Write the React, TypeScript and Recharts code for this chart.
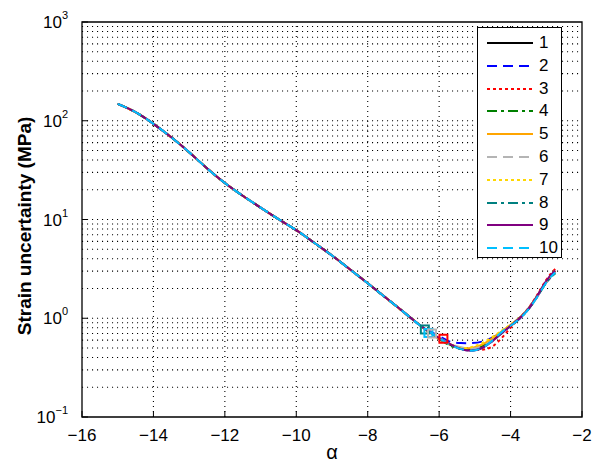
import React from 'react';
import {
  ComposedChart,
  Line,
  Scatter,
  XAxis,
  YAxis,
  ReferenceLine,
  ReferenceArea,
} from 'recharts';

// alpha sample positions: common descent, then the dip/rise region
const alphaHead = [-15, -14.5, -14, -13.5, -13, -12.5, -12, -11.5, -11, -10.5, -10, -9.5, -9, -8.5, -8, -7.5, -7, -6.5];
const alphaTail = [-6.0, -5.7, -5.4, -5.1, -4.8, -4.5, -4.2, -3.9, -3.6, -3.3, -3.0, -2.75];

// all runs coincide on the descending branch
const headValues = [148, 122, 93, 68, 48, 33, 23.4, 17.4, 13.2, 10.1, 7.8, 5.82, 4.32, 3.13, 2.26, 1.62, 1.16, 0.83];

// runs separate slightly around the minimum
const tail1 = [0.62, 0.54, 0.49, 0.48, 0.51, 0.6, 0.74, 0.9, 1.13, 1.58, 2.35, 3.0];
const tail2 = [0.66, 0.58, 0.56, 0.56, 0.58, 0.64, 0.74, 0.89, 1.12, 1.56, 2.3, 2.9];
const tail3 = [0.62, 0.55, 0.5, 0.48, 0.48, 0.52, 0.66, 0.88, 1.15, 1.62, 2.45, 3.15];
const tail4 = [0.62, 0.53, 0.49, 0.48, 0.52, 0.61, 0.75, 0.91, 1.13, 1.57, 2.3, 2.85];
const tail5 = [0.63, 0.55, 0.5, 0.5, 0.54, 0.63, 0.76, 0.91, 1.13, 1.58, 2.35, 3.0];
const tail6 = [0.64, 0.55, 0.51, 0.49, 0.52, 0.6, 0.74, 0.9, 1.12, 1.55, 2.3, 2.9];
const tail7 = [0.62, 0.54, 0.5, 0.51, 0.56, 0.65, 0.77, 0.92, 1.14, 1.58, 2.35, 3.05];
const tail8 = [0.63, 0.54, 0.49, 0.47, 0.5, 0.59, 0.73, 0.89, 1.12, 1.56, 2.3, 2.85];
const tail9 = [0.63, 0.55, 0.49, 0.47, 0.5, 0.59, 0.73, 0.9, 1.13, 1.58, 2.4, 3.05];
const tail10 = [0.63, 0.54, 0.49, 0.47, 0.5, 0.6, 0.75, 0.89, 1.12, 1.55, 2.3, 2.9];

const tails = [tail1, tail2, tail3, tail4, tail5, tail6, tail7, tail8, tail9, tail10];
const seriesNames = ['1', '2', '3', '4', '5', '6', '7', '8', '9', '10'];
const seriesColors = ['#000000', '#0000ff', '#ff0000', '#008000', '#ffa500', '#b4b4b4', '#ffd700', '#008080', '#800080', '#00bfff'];
const seriesDashes = [undefined, '10 6', '3 3', '10 4 3 4', undefined, '10 6', '3 3', '10 4 3 4', undefined, '10 6'];

// highlighted points (hollow squares)
const markerSeries = [7, 9, 5, 2];
const markerAlpha = [-6.4, -6.3, -6.2, -5.88];
const markerValue = [0.77, 0.71, 0.7, 0.62];

const xTicks = [-16, -14, -12, -10, -8, -6, -4, -2];
const yTicks = [0.1, 1, 10, 100, 1000];
const yExponents = ['\u22121', '0', '1', '2', '3'];

const alphaAll = [...alphaHead, ...alphaTail];
const chartData = alphaAll.map((a, i) => {
  const row: Record<string, number> = { alpha: a };
  tails.forEach((tail, k) => {
    row[`s${k + 1}`] = i < headValues.length ? headValues[i] : tail[i - headValues.length];
  });
  return row;
});

// dotted log grid: every 1..9 inside each decade
const hGrid: number[] = [];
[0.1, 1, 10, 100].forEach((dec) => {
  for (let m = 1; m <= 9; m++) {
    const v = dec * m;
    if (v > 0.1 + 1e-9) hGrid.push(Number(v.toPrecision(3)));
  }
});
const vGrid = xTicks.slice(1, -1);

const FONT = '"Liberation Sans", Arial, Helvetica, sans-serif';

const YTick = (props: any) => {
  const { x, y, payload } = props;
  const idx = yTicks.indexOf(payload.value);
  return (
    <text x={x} y={y} textAnchor="end" fontFamily={FONT} fontSize={17} fill="#000">
      <tspan dy={6}>10</tspan>
      <tspan dy={-9} fontSize={11}>{yExponents[idx]}</tspan>
    </text>
  );
};

const XTick = (props: any) => {
  const { x, y, payload } = props;
  return (
    <text x={x} y={y} dy={12} textAnchor="middle" fontFamily={FONT} fontSize={17} fill="#000">
      {String(payload.value).replace('-', '\u2212')}
    </text>
  );
};

const YLabel = () => (
  <text
    x={24}
    y={226}
    transform="rotate(-90, 24, 226)"
    textAnchor="middle"
    dominantBaseline="central"
    fontFamily={FONT}
    fontSize={19}
    fontWeight="bold"
    fill="#000"
  >
    Strain uncertainty (MPa)
  </text>
);

const SquareMarker = (color: string) => (props: any) => {
  const { cx, cy } = props;
  return <rect x={cx - 4} y={cy - 4} width={8} height={8} fill="none" stroke={color} strokeWidth={2} />;
};

const LegendBox = () => (
  <div
    style={{
      position: 'absolute',
      left: 477,
      top: 27,
      width: 83,
      height: 229,
      border: '1px solid #000',
      background: '#fff',
      fontFamily: FONT,
      fontSize: 17,
    }}
  >
    {seriesNames.map((name, k) => (
      <div
        key={name}
        style={{ position: 'absolute', left: 8, top: 4 + k * 22.8, height: 22, display: 'flex', alignItems: 'center' }}
      >
        <svg width={48} height={22}>
          <line
            x1={1}
            y1={11}
            x2={47}
            y2={11}
            stroke={seriesColors[k]}
            strokeWidth={2}
            strokeDasharray={seriesDashes[k]}
          />
        </svg>
        <span style={{ marginLeft: 5, color: '#000' }}>{name}</span>
      </div>
    ))}
  </div>
);

export default function App() {
  return (
    <div style={{ position: 'relative', width: 597, height: 470, background: '#fff' }}>
      <style>{'body{margin:0;}'}</style>
      <ComposedChart
        width={597}
        height={470}
        data={chartData}
        margin={{ top: 22, right: 15, bottom: 0, left: 0 }}
      >
        <XAxis
          dataKey="alpha"
          type="number"
          domain={[-16, -2]}
          ticks={xTicks}
          allowDataOverflow
          height={53}
          tickSize={-6}
          tickMargin={18}
          tick={<XTick />}
          stroke="#000"
          axisLine={false}
          label={{ value: '\u03b1', position: 'insideBottom', offset: 11, fontSize: 20, fill: '#000', fontFamily: FONT }}
        />
        <XAxis
          xAxisId="top"
          orientation="top"
          type="number"
          domain={[-16, -2]}
          ticks={xTicks}
          height={0}
          tickSize={-6}
          tick={false}
          axisLine={false}
          stroke="#000"
        />
        <YAxis
          type="number"
          scale="log"
          domain={[0.1, 1000]}
          ticks={yTicks}
          allowDataOverflow
          width={82}
          tickSize={-6}
          tickMargin={20}
          tick={<YTick />}
          axisLine={false}
          stroke="#000"
          label={<YLabel />}
        />
        <YAxis
          yAxisId="right"
          orientation="right"
          type="number"
          scale="log"
          domain={[0.1, 1000]}
          ticks={yTicks}
          allowDataOverflow
          width={0}
          tickSize={-6}
          tick={false}
          axisLine={false}
          stroke="#000"
        />

        {hGrid.map((v) => (
          <ReferenceLine key={`h${v}`} y={v} stroke="#000" strokeWidth={1.1} strokeDasharray="1.1 3.9" />
        ))}
        {vGrid.map((v) => (
          <ReferenceLine key={`v${v}`} x={v} stroke="#000" strokeWidth={1.1} strokeDasharray="1.1 3.9" />
        ))}

        {seriesNames.map((name, k) => (
          <Line
            key={name}
            type="natural"
            dataKey={`s${k + 1}`}
            name={name}
            stroke={seriesColors[k]}
            strokeWidth={2}
            strokeDasharray={seriesDashes[k]}
            dot={false}
            isAnimationActive={false}
          />
        ))}

        {markerSeries.map((k, i) => (
          <Scatter
            key={`m${k}`}
            data={[{ alpha: markerAlpha[i], value: markerValue[i] }]}
            dataKey="value"
            shape={SquareMarker(seriesColors[k])}
            isAnimationActive={false}
          />
        ))}

        <ReferenceArea x1={-16} x2={-2} y1={0.1} y2={1000} fill="none" stroke="#000" strokeWidth={1.3} />
      </ComposedChart>
      <LegendBox />
    </div>
  );
}
